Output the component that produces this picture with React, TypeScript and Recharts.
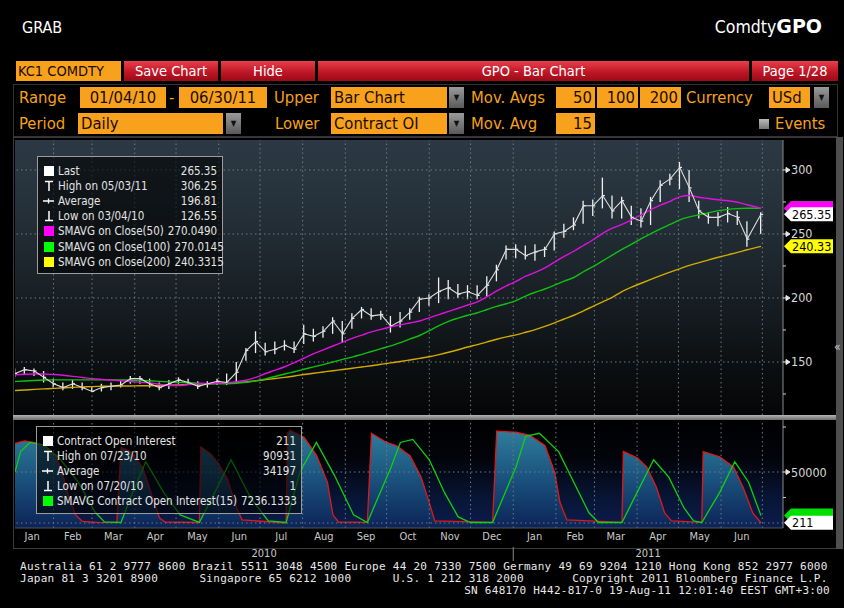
import React from 'react'
import { ComposedChart, Line, Area, Bar, XAxis, YAxis, ReferenceLine } from 'recharts'

const FONT = "'Liberation Sans Narrow', 'DejaVu Sans Condensed', 'Arial Narrow', sans-serif"
const MONO = "'DejaVu Sans Mono', 'Liberation Mono', monospace"

// KC1 Comdty, one bar per week
const weekDates = [
  '01/04/10', '01/11/10', '01/18/10', '01/25/10', '02/01/10', '02/08/10', '02/15/10', '02/22/10', '03/01/10', '03/08/10',
  '03/15/10', '03/22/10', '03/29/10', '04/05/10', '04/12/10', '04/19/10', '04/26/10', '05/03/10', '05/10/10', '05/17/10',
  '05/24/10', '05/31/10', '06/07/10', '06/14/10', '06/21/10', '06/28/10', '07/05/10', '07/12/10', '07/19/10', '07/26/10',
  '08/02/10', '08/09/10', '08/16/10', '08/23/10', '08/30/10', '09/06/10', '09/13/10', '09/20/10', '09/27/10', '10/04/10',
  '10/11/10', '10/18/10', '10/25/10', '11/01/10', '11/08/10', '11/15/10', '11/22/10', '11/29/10', '12/06/10', '12/13/10',
  '12/20/10', '12/27/10', '01/03/11', '01/10/11', '01/17/11', '01/24/11', '01/31/11', '02/07/11', '02/14/11', '02/21/11',
  '02/28/11', '03/07/11', '03/14/11', '03/21/11', '03/28/11', '04/04/11', '04/11/11', '04/18/11', '04/25/11', '05/02/11',
  '05/09/11', '05/16/11', '05/23/11', '05/30/11', '06/06/11', '06/13/11', '06/20/11', '06/30/11',
]
const highs = [
  145, 146, 145, 143, 137, 134, 136, 134, 131, 133,
  134, 136, 139, 139, 137, 134, 136, 138, 137, 135,
  135, 137, 141, 150, 161, 174, 165, 166, 167, 166,
  179, 176, 178, 185, 182, 188, 193, 192, 190, 186,
  189, 192, 201, 203, 216, 214, 211, 210, 210, 217,
  226, 241, 242, 241, 242, 240, 252, 258, 263, 276,
  277, 294, 280, 279, 272, 270, 279, 292, 297, 306.25,
  300, 276, 267, 267, 271, 268, 260, 267,
]
const lows = [
  138, 140, 139, 134, 130, 128, 129, 128, 126.55, 127,
  128, 130, 133, 133, 130, 128, 129, 133, 132, 129,
  130, 132, 132, 134, 151, 157, 155, 156, 159, 157,
  164, 166, 169, 172, 165, 176, 184, 183, 183, 173,
  177, 183, 189, 194, 196, 199, 200, 199, 199, 201,
  213, 230, 231, 230, 229, 232, 237, 247, 253, 258,
  264, 270, 262, 262, 257, 255, 257, 275, 288, 285,
  275, 262, 258, 256, 259, 257, 240, 250,
]
const closes = [
  141, 144, 143, 138, 133, 130, 133, 130, 127, 130,
  131, 132, 137, 137, 133, 130, 133, 136, 134, 131,
  133, 135, 134, 142, 159, 166, 158, 160, 163, 160,
  172, 170, 174, 182, 172, 184, 191, 186, 187, 178,
  182, 189, 199, 200, 205, 208, 203, 205, 202, 210,
  222, 238, 238, 233, 236, 238, 250, 252, 257, 272,
  272, 280, 268, 276, 263, 260, 276, 288, 293, 302,
  286, 268, 263, 263, 266, 263, 246, 265.35,
]
const sma50 = [
  140, 140.4, 140.6, 140.6, 140.2, 139.6, 138.8, 137.9, 137, 136.4,
  135.9, 135.4, 134.8, 134.1, 133.6, 132.6, 131.7, 131.6, 132.3, 133,
  133.2, 133.4, 133.9, 134.6, 135.7, 138, 141, 143.6, 146.3, 149.5,
  153, 156.5, 159.5, 162.5, 165.5, 168.5, 171, 173.5, 175.5, 177.5,
  179, 180.5, 182, 184.5, 187, 189.5, 192, 194.5, 197, 201,
  205.5, 209.5, 213, 217, 220, 223.5, 228, 232.5, 236.5, 241,
  245.5, 250.5, 254.5, 257.5, 261, 265, 269, 272.5, 275.5, 279,
  280, 278.7, 277.7, 276.7, 276, 274.8, 272.8, 270.049,
]
const sma100 = [
  134.7, 135.2, 135.6, 135.9, 136, 136, 136, 136, 136, 136,
  136, 136, 135.8, 135.6, 135.3, 134.9, 134.5, 134.1, 133.8, 133.4,
  133.1, 132.9, 133, 133.4, 134.2, 135.3, 136.8, 138.7, 140.6, 142.4,
  144.3, 146.2, 148, 150, 152, 153.8, 156, 158.2, 160.4, 162.6,
  165.2, 168, 170.7, 174.5, 178.5, 181.8, 184.3, 186.5, 188.5, 191,
  193.5, 195.5, 198, 201.5, 204.5, 207, 210, 213.2, 216, 220.5,
  224.5, 229, 233.5, 238, 242, 246.3, 250.3, 254, 257.5, 261,
  263.3, 265, 266.5, 268.2, 269.2, 269.8, 270.1, 270.0145,
]
const sma200 = [
  127.7, 128.1, 128.6, 129, 129.4, 129.9, 130.2, 130.5, 130.8, 131,
  131.1, 131.2, 131.3, 131.4, 131.5, 131.6, 131.8, 132.1, 132.5, 132.8,
  133, 133.3, 133.6, 134, 134.5, 135.3, 136.2, 137.1, 138, 139.1,
  140.2, 141.2, 142.2, 143.2, 144.1, 145.1, 146.1, 147.1, 148.2, 149.3,
  150.4, 151.6, 152.8, 154.1, 155.8, 157.6, 159.6, 161.7, 163.6, 165.7,
  167.8, 169.6, 171.2, 173.2, 175.3, 177.8, 180.6, 183.6, 186.5, 190,
  193.5, 197, 200.5, 205, 208.5, 211.5, 214.5, 217.5, 220.2, 222.8,
  225.5, 227.6, 229.8, 231.8, 233.7, 235.6, 237.7, 240.3315,
]

// contract open interest (front month rolls)
const oiDates = [
  '01/04/10', '01/11/10', '01/19/10', '01/25/10', '02/03/10', '02/08/10', '02/12/10', '02/17/10', '02/22/10', '03/05/10', '03/19/10',
  '03/22/10', '03/29/10', '04/07/10', '04/14/10', '04/19/10', '04/23/10', '05/18/10',
  '05/19/10', '05/26/10', '05/31/10', '06/07/10', '06/14/10', '06/18/10', '07/20/10',
  '07/21/10', '07/23/10', '08/02/10', '08/11/10', '08/19/10', '08/23/10', '08/27/10', '09/17/10',
  '09/20/10', '10/01/10', '10/08/10', '10/18/10', '10/26/10', '11/01/10', '11/05/10', '12/17/10',
  '12/20/10', '01/03/11', '01/13/11', '01/24/11', '01/31/11', '02/04/11', '02/09/11', '03/21/11',
  '03/22/11', '04/01/11', '04/08/11', '04/15/11', '04/21/11', '04/26/11', '05/18/11',
  '05/19/11', '05/31/11', '06/10/11', '06/17/11', '06/24/11', '06/30/11',
]
const oiValues = [
  78000, 80500, 78500, 76000, 65000, 47000, 25000, 8000, 1500, 600, 400,
  74000, 70000, 54000, 24500, 5000, 1000, 500,
  74500, 68000, 60000, 44000, 15000, 3000, 1,
  88000, 90931, 84000, 66600, 40000, 8000, 1000, 600,
  88000, 79000, 76000, 66000, 45000, 20000, 2000, 600,
  90000, 89000, 86000, 76000, 50000, 20000, 3000, 600,
  70000, 64000, 55000, 35000, 10000, 2000, 600,
  70000, 65000, 55000, 35000, 10000, 211,
]
const oiAvgDates = [
  '01/04/10', '01/08/10', '01/15/10', '01/25/10', '02/05/10', '02/19/10', '03/03/10', '03/10/10', '03/22/10',
  '03/29/10', '04/09/10', '04/22/10', '05/04/10', '05/18/10',
  '05/28/10', '06/10/10', '06/24/10', '07/07/10', '07/20/10',
  '07/30/10', '08/11/10', '08/24/10', '09/07/10', '09/17/10',
  '10/04/10', '10/11/10', '10/20/10', '11/01/10', '11/12/10', '11/22/10', '12/01/10', '12/17/10',
  '01/03/11', '01/10/11', '01/20/11', '02/03/11', '02/14/11', '02/25/11', '03/04/11', '03/21/11',
  '04/01/11', '04/13/11', '04/24/11', '05/05/11', '05/12/11', '05/18/11',
  '05/31/11', '06/11/11', '06/21/11', '06/30/11',
]
const oiAvgValues = [
  50000, 70000, 79000, 76500, 64000, 40000, 11000, 1000, 500,
  25000, 60000, 30000, 8000, 600,
  27000, 62000, 25000, 2000, 500,
  50000, 79000, 47000, 8000, 500,
  54000, 79000, 82000, 62000, 30000, 6000, 500, 500,
  55000, 85000, 88000, 70000, 40000, 10000, 500, 500,
  30000, 62000, 45000, 15000, 2000, 500,
  30000, 60000, 40000, 7236.1333,
]

const monthStarts = [
  '01/01/10', '02/01/10', '03/01/10', '04/01/10', '05/01/10', '06/01/10', '07/01/10', '08/01/10', '09/01/10', '10/01/10',
  '11/01/10', '12/01/10', '01/01/11', '02/01/11', '03/01/11', '04/01/11', '05/01/11', '06/01/11', '07/01/11',
]
const monthLabels = ['Jan', 'Feb', 'Mar', 'Apr', 'May', 'Jun', 'Jul', 'Aug', 'Sep', 'Oct', 'Nov', 'Dec', 'Jan', 'Feb', 'Mar', 'Apr', 'May', 'Jun']
const yearStarts = ['01/01/10', '01/01/11', '01/01/12']
const yearLabels = ['2010', '2011']

const priceTicks = [125, 150, 175, 200, 225, 250, 275, 300]
const priceGrid = [150, 200, 250, 300]
const oiTicks = [25000, 50000, 75000, 100000]
const oiGrid = [0, 50000]

const upperLegend = [
  { icon: 'box', color: '#ffffff', label: 'Last', value: '265.35' },
  { icon: 'high', color: '#ffffff', label: 'High on 05/03/11', value: '306.25' },
  { icon: 'avg', color: '#ffffff', label: 'Average', value: '196.81' },
  { icon: 'low', color: '#ffffff', label: 'Low on 03/04/10', value: '126.55' },
  { icon: 'box', color: '#ff00ff', label: 'SMAVG on Close(50)', value: '270.0490' },
  { icon: 'box', color: '#00ff00', label: 'SMAVG on Close(100)', value: '270.0145' },
  { icon: 'box', color: '#ffff00', label: 'SMAVG on Close(200)', value: '240.3315' },
]
const lowerLegend = [
  { icon: 'box', color: '#ffffff', label: 'Contract Open Interest', value: '211' },
  { icon: 'high', color: '#ffffff', label: 'High on 07/23/10', value: '90931' },
  { icon: 'avg', color: '#ffffff', label: 'Average', value: '34197' },
  { icon: 'low', color: '#ffffff', label: 'Low on 07/20/10', value: '1' },
  { icon: 'box', color: '#00ff00', label: 'SMAVG Contract Open Interest(15)', value: '7236.1333' },
]

const footerLines = [
  'Australia 61 2 9777 8600 Brazil 5511 3048 4500 Europe 44 20 7330 7500 Germany 49 69 9204 1210 Hong Kong 852 2977 6000',
  'Japan 81 3 3201 8900      Singapore 65 6212 1000      U.S. 1 212 318 2000       Copyright 2011 Bloomberg Finance L.P.',
  'SN 648170 H442-817-0 19-Aug-11 12:01:40 EEST GMT+3:00',
]

function toDay(s: string) {
  const [m, d, y] = s.split('/').map(Number)
  return (Date.UTC(2000 + y, m - 1, d) - Date.UTC(2010, 0, 1)) / 86400000
}

const X_DOMAIN: [number, number] = [3, 561]

const priceData = weekDates.map((d, i) => ({
  day: toDay(d),
  range: [lows[i], highs[i]],
  high: highs[i],
  low: lows[i],
  close: closes[i],
  sma50: sma50[i],
  sma100: sma100[i],
  sma200: sma200[i],
}))

const oiRows: Record<number, { day: number; oi?: number; avg?: number }> = {}
oiDates.forEach((d, i) => {
  const k = toDay(d)
  oiRows[k] = { ...(oiRows[k] || { day: k }), oi: oiValues[i] }
})
oiAvgDates.forEach((d, i) => {
  const k = toDay(d)
  oiRows[k] = { ...(oiRows[k] || { day: k }), avg: oiAvgValues[i] }
})
const oiData = Object.values(oiRows).sort((a, b) => a.day - b.day)

const monthDays = monthStarts.map(toDay)
const monthMids = monthLabels.map((_, i) => (monthDays[i] + monthDays[i + 1]) / 2)
const yearDays = yearStarts.map(toDay)
const yearMids = yearLabels.map((_, i) =>
  (Math.max(yearDays[i], X_DOMAIN[0]) + Math.min(yearDays[i + 1], X_DOMAIN[1])) / 2)
const yearTicks = [yearMids[0], yearDays[1], yearMids[1]]

const last = priceData[priceData.length - 1]
const lastOi = oiValues[oiValues.length - 1]
const lastOiAvg = oiAvgValues[oiAvgValues.length - 1]

function PriceBar(props: any) {
  const { x, y, width, height, payload } = props
  if (x == null || y == null || !payload) return null
  const top = Math.min(y, y + height)
  const h = Math.abs(height)
  const cx = x + width / 2
  const span = payload.high - payload.low
  const cy = top + (span ? ((payload.high - payload.close) / span) * h : 0)
  return (
    <g>
      <line x1={cx} x2={cx} y1={top} y2={top + h} stroke="#f0f0f0" strokeWidth={1.3} />
      <line x1={cx} x2={cx + 2.5} y1={cy} y2={cy} stroke="#f0f0f0" strokeWidth={1.2} />
    </g>
  )
}

function AxisTick(props: any) {
  const { x, y, payload, major } = props
  const isMajor = major.includes(payload.value)
  return (
    <g>
      {isMajor ? (
        <path d={`M${x},${y} H${x + 3} M${x + 3},${y - 2.5} L${x + 7},${y} L${x + 3},${y + 2.5} Z`} stroke="#e8e8e8" fill="#e8e8e8" strokeWidth={1} />
      ) : (
        <line x1={x} x2={x + 3} y1={y} y2={y} stroke="#cfcfcf" />
      )}
      {isMajor && (
        <text x={x + 8} y={y + 4.5} fontSize={12.5} fill="#d8d8d8" fontFamily={FONT}>
          {payload.value}
        </text>
      )}
    </g>
  )
}

function MonthTick(props: any) {
  const { x, y, index } = props
  return (
    <text x={x} y={y + 12} textAnchor="middle" fontSize={11} fill="#c8c8c8" fontFamily={FONT}>
      {monthLabels[index]}
    </text>
  )
}

function YearTick(props: any) {
  const { x, y, index } = props
  if (index === 1) return <line x1={x} x2={x} y1={y} y2={y + 14} stroke="#8a8a8a" />
  return (
    <text x={x} y={y + 10} textAnchor="middle" fontSize={11} fill="#c8c8c8" fontFamily={FONT}>
      {yearLabels[index === 0 ? 0 : 1]}
    </text>
  )
}

function AxisTag(props: any) {
  const { viewBox, fill, text, textFill } = props
  if (!viewBox) return null
  const x = viewBox.x + viewBox.width + 1
  const y = viewBox.y
  return (
    <g>
      <path d={`M${x},${y} L${x + 7},${y - 7} H${x + 49} V${y + 7} H${x + 7} Z`} fill={fill} />
      {text && (
        <text x={x + 8} y={y + 4.5} fontSize={12.5} fill={textFill} fontFamily={FONT}>
          {text}
        </text>
      )}
    </g>
  )
}

function LegendIcon({ icon, color }: { icon: string; color: string }) {
  return (
    <svg width={12} height={12} style={{ display: 'block', marginRight: 3, flexShrink: 0 }}>
      {icon === 'box' && <rect x={1} y={1} width={10} height={10} fill={color} />}
      {icon === 'high' && <path d="M2,1.5 H10 M6,1.5 V11" stroke={color} strokeWidth={1.5} fill="none" />}
      {icon === 'avg' && <path d="M0,6 H11 M5.5,3.5 V8.5" stroke={color} strokeWidth={1.3} fill="none" />}
      {icon === 'low' && <path d="M6,1 V10.5 M2,10.5 H10" stroke={color} strokeWidth={1.5} fill="none" />}
    </svg>
  )
}

function LegendBox({ items, left, top, width }: { items: any[]; left: number; top: number; width: number }) {
  return (
    <div
      style={{
        position: 'absolute', left, top, width, boxSizing: 'border-box',
        padding: '6px 5px 4px 5px', background: 'rgba(0,0,0,0.6)', border: '1px solid #9c9c9c',
        fontFamily: FONT, fontSize: 11.5, color: '#e4e4e4',
      }}
    >
      {items.map(it => (
        <div key={it.label} style={{ display: 'flex', alignItems: 'center', height: 15.2 }}>
          <LegendIcon icon={it.icon} color={it.color} />
          <span style={{ flex: 1, whiteSpace: 'nowrap' }}>{it.label}</span>
          <span style={{ whiteSpace: 'nowrap', marginLeft: 4 }}>{it.value}</span>
        </div>
      ))}
    </div>
  )
}

const BOX_BG = '#f7a11c'
const LABEL = '#f7a11c'

function Field({ left, top, width, text, align = 'left' }: { left: number; top: number; width: number; text: string; align?: any }) {
  return (
    <div style={{
      position: 'absolute', left, top, width, height: 21, boxSizing: 'border-box', background: BOX_BG,
      color: '#1c0c00', fontSize: 16.5, lineHeight: '21px', padding: '0 3px', textAlign: align,
    }}>{text}</div>
  )
}

function Drop({ left, top }: { left: number; top: number }) {
  return (
    <div style={{
      position: 'absolute', left, top, width: 15, height: 21, background: 'linear-gradient(#9a9a9a, #5a5a5a)',
      color: '#111', fontSize: 8, lineHeight: '21px', textAlign: 'center',
    }}>▼</div>
  )
}

function Label({ left, top, text }: { left: number; top: number; text: string }) {
  return <div style={{ position: 'absolute', left, top, color: LABEL, fontSize: 16.5, lineHeight: '21px' }}>{text}</div>
}

function RedButton({ left, width, text, align = 'center' }: { left: number; width: number; text: string; align?: any }) {
  return (
    <div style={{
      position: 'absolute', left, top: 61, width, height: 20, boxSizing: 'border-box',
      background: 'linear-gradient(#e8404c, #c01626 55%, #9a0c18)', color: '#fff', fontSize: 14.5,
      lineHeight: '20px', textAlign: align, padding: '0 3px',
    }}>{text}</div>
  )
}

export default function App() {
  return (
    <div style={{ position: 'relative', width: 844, height: 608, background: '#000', overflow: 'hidden', fontFamily: FONT }}>
      <style>{'body{margin:0;background:#000}'}</style>

      {/* header */}
      <div style={{ position: 'absolute', left: 22, top: 18, color: '#fff', fontSize: 16 }}>GRAB</div>
      <div style={{ position: 'absolute', right: 22, top: 15, color: '#fff', fontSize: 17.5 }}>
        Comdty<span style={{ fontWeight: 'bold', fontSize: 19, fontFamily: "'DejaVu Sans', sans-serif" }}>GPO</span>
      </div>

      {/* toolbar row 1 */}
      <div style={{
        position: 'absolute', left: 16, top: 61, width: 105, height: 20, background: BOX_BG, color: '#1c0c00',
        fontSize: 14.5, lineHeight: '20px', paddingLeft: 2, boxSizing: 'border-box',
      }}>KC1 COMDTY</div>
      <RedButton left={124} width={94} text="Save Chart" />
      <RedButton left={221} width={94} text="Hide" />
      <RedButton left={318} width={431} text="GPO - Bar Chart" />
      <RedButton left={752} width={86} text="Page 1/28" />

      {/* toolbar rows 2-3 */}
      <div style={{ position: 'absolute', left: 13, top: 84, width: 825, height: 53, border: '1px solid #333', boxSizing: 'border-box' }} />
      <Label left={19} top={87} text="Range" />
      <Field left={80} top={87} width={86} text="01/04/10" align="center" />
      <Label left={169} top={87} text="-" />
      <Field left={179} top={87} width={88} text="06/30/11" align="center" />
      <Label left={274} top={87} text="Upper" />
      <Field left={331} top={87} width={116} text="Bar Chart" />
      <Drop left={449} top={87} />
      <Label left={471} top={87} text="Mov. Avgs" />
      <Field left={556} top={87} width={39} text="50" align="right" />
      <Field left={597} top={87} width={41} text="100" align="right" />
      <Field left={640} top={87} width={41} text="200" align="right" />
      <Label left={686} top={87} text="Currency" />
      <Field left={769} top={87} width={41} text="USd" />
      <Drop left={814} top={87} />

      <Label left={19} top={113} text="Period" />
      <Field left={78} top={113} width={145} text="Daily" />
      <Drop left={226} top={113} />
      <Label left={275} top={113} text="Lower" />
      <Field left={331} top={113} width={116} text="Contract OI" />
      <Drop left={449} top={113} />
      <Label left={471} top={113} text="Mov. Avg" />
      <Field left={556} top={113} width={39} text="15" align="right" />
      <div style={{ position: 'absolute', left: 759, top: 119, width: 10, height: 10, background: 'linear-gradient(#bbb, #777)' }} />
      <Label left={775} top={113} text="Events" />

      {/* chart frame */}
      <div style={{ position: 'absolute', left: 13, top: 137, width: 825, height: 412, border: '1px solid #3a3a3a', boxSizing: 'border-box' }} />
      <div style={{
        position: 'absolute', left: 15, top: 140, width: 768, height: 275,
        background: 'linear-gradient(#2c3944 0%, #26323b 22%, #1d262d 45%, #141a1e 65%, #0c0f11 82%, #050607 100%)',
      }} />
      <div style={{ position: 'absolute', left: 13, top: 415, width: 823, height: 5, background: 'linear-gradient(#b4b4b4, #6c6c6c)' }} />
      <div style={{
        position: 'absolute', left: 15, top: 420, width: 768, height: 108,
        background: 'linear-gradient(#000 0%, #02040a 35%, #081638 75%, #0c1c4c 100%)',
      }} />
      <div style={{ position: 'absolute', left: 836, top: 137, width: 7, height: 412, background: '#4e4e4e' }} />
      <div style={{ position: 'absolute', left: 834, top: 340, color: '#ccc', fontSize: 12 }}>«</div>

      {/* upper panel: price bars + moving averages */}
      <div style={{ position: 'absolute', left: 0, top: 137 }}>
        <ComposedChart width={844} height={280} data={priceData} margin={{ top: 3, right: 9, bottom: 2, left: 15 }}>
          <XAxis dataKey="day" type="number" domain={X_DOMAIN} allowDataOverflow hide />
          <YAxis
            orientation="right" width={52} domain={[108.6, 323.4]} allowDataOverflow ticks={priceTicks}
            axisLine={{ stroke: '#8a8a8a' }} tickLine={false} tickSize={0} tickMargin={0}
            tick={<AxisTick major={priceGrid} />}
          />
          {priceGrid.map(v => (
            <ReferenceLine key={'h' + v} y={v} stroke="#6e7a84" strokeDasharray="1.5 3" />
          ))}
          {monthDays.map(d => (
            <ReferenceLine key={'v' + d} x={d} stroke="#6e7a84" strokeDasharray="1.5 3" />
          ))}
          <Line dataKey="sma200" stroke="#d2aa00" strokeWidth={1.4} dot={false} type="monotone" isAnimationActive={false} />
          <Line dataKey="sma100" stroke="#10c010" strokeWidth={1.4} dot={false} type="monotone" isAnimationActive={false} />
          <Line dataKey="sma50" stroke="#e010e0" strokeWidth={1.4} dot={false} type="monotone" isAnimationActive={false} />
          <Line dataKey="close" stroke="#dedede" strokeWidth={1.1} dot={false} type="linear" isAnimationActive={false} />
          <Bar dataKey="range" barSize={3} shape={<PriceBar />} isAnimationActive={false} />
          <ReferenceLine y={last.sma100} stroke="none" label={<AxisTag fill="#00d000" text="" />} />
          <ReferenceLine y={last.sma50} stroke="none" label={<AxisTag fill="#ff00ff" text="" />} />
          <ReferenceLine y={last.close} stroke="none" label={<AxisTag fill="#ffffff" text={last.close.toFixed(2)} textFill="#000" />} />
          <ReferenceLine y={last.sma200} stroke="none" label={<AxisTag fill="#ffff00" text={last.sma200.toFixed(2)} textFill="#000" />} />
        </ComposedChart>
      </div>

      {/* lower panel: contract open interest */}
      <div style={{ position: 'absolute', left: 0, top: 418 }}>
        <ComposedChart width={844} height={144} data={oiData} margin={{ top: 2, right: 9, bottom: 0, left: 15 }}>
          <defs>
            <linearGradient id="oiFill" x1="0" y1="0" x2="0" y2="1">
              <stop offset="0%" stopColor="#2f7e9c" />
              <stop offset="45%" stopColor="#1c5680" />
              <stop offset="100%" stopColor="#0c2458" />
            </linearGradient>
          </defs>
          <XAxis
            xAxisId="m" dataKey="day" type="number" domain={X_DOMAIN} allowDataOverflow height={19}
            ticks={monthMids} interval={0} tickLine={false} tickSize={0} tickMargin={0} axisLine={{ stroke: '#555' }} tick={<MonthTick />}
          />
          <XAxis
            xAxisId="y" dataKey="day" type="number" domain={X_DOMAIN} allowDataOverflow height={15}
            ticks={yearTicks} interval={0} tickLine={false} tickSize={0} tickMargin={0} axisLine={false} tick={<YearTick />}
          />
          <YAxis
            orientation="right" width={52} domain={[-4900, 101000]} allowDataOverflow ticks={oiTicks}
            axisLine={{ stroke: '#8a8a8a' }} tickLine={false} tickSize={0} tickMargin={0}
            tick={<AxisTick major={[50000]} />}
          />
          {oiGrid.map(v => (
            <ReferenceLine key={'h' + v} xAxisId="m" y={v} stroke="#6e7a84" strokeDasharray="1.5 3" />
          ))}
          {monthDays.map(d => (
            <ReferenceLine key={'v' + d} xAxisId="m" x={d} stroke="#6e7a84" strokeDasharray="1.5 3" />
          ))}
          <Area
            xAxisId="m" dataKey="oi" type="linear" stroke="#e01818" strokeWidth={1.3} fill="url(#oiFill)" fillOpacity={1}
            baseValue="dataMin" connectNulls isAnimationActive={false}
          />
          <Line xAxisId="m" dataKey="avg" type="linear" stroke="#10d010" strokeWidth={1.3} dot={false} connectNulls isAnimationActive={false} />
          <ReferenceLine xAxisId="m" y={lastOiAvg} stroke="none" label={<AxisTag fill="#00e000" text="" />} />
          <ReferenceLine xAxisId="m" y={lastOi} stroke="none" label={<AxisTag fill="#ffffff" text={String(lastOi)} textFill="#000" />} />
        </ComposedChart>
      </div>

      <LegendBox items={upperLegend} left={37} top={156} width={186} />
      <LegendBox items={lowerLegend} left={36} top={426} width={266} />

      {/* footer */}
      <div style={{
        position: 'absolute', left: 20, top: 561, width: 810, fontFamily: MONO, fontSize: 11, letterSpacing: 0.28,
        lineHeight: '12px', color: '#e8e8e8', whiteSpace: 'pre',
      }}>
        <div>{footerLines[0]}</div>
        <div>{footerLines[1]}</div>
        <div style={{ textAlign: 'right' }}>{footerLines[2]}</div>
      </div>
    </div>
  )
}
